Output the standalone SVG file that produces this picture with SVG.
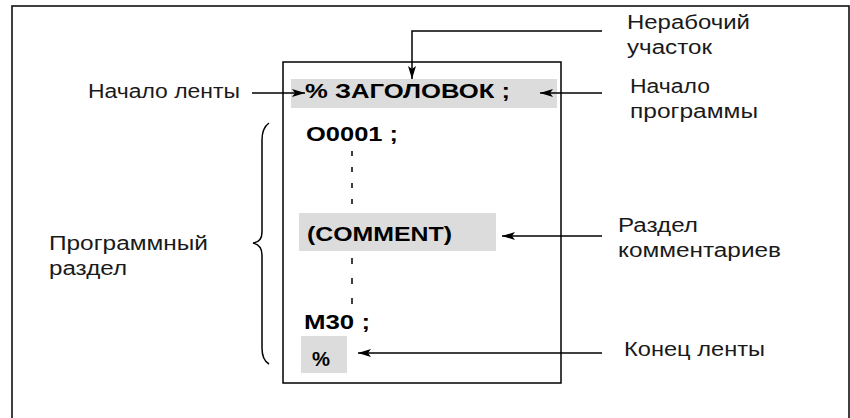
<svg xmlns="http://www.w3.org/2000/svg" width="850" height="418" viewBox="0 0 850 418">
<defs>
<style>
.lbl{font-family:"Liberation Sans",Arial,sans-serif;font-size:20px;fill:#1a1a1a}
.code{font-family:"Liberation Sans",Arial,sans-serif;font-size:20px;font-weight:bold;fill:#000}
.ln{stroke:#000;stroke-width:1.5;fill:none}
.hl{fill:#dcdcdc}
</style>
<marker id="ah" markerWidth="14" markerHeight="8" refX="13" refY="4" orient="auto" markerUnits="userSpaceOnUse">
<path d="M0,0 L13,4 L0,8 L3,4 Z" fill="#000"/>
</marker>
</defs>
<rect x="0" y="0" width="850" height="418" fill="#fff"/>
<rect x="12" y="6" width="837" height="430" fill="none" stroke="#111" stroke-width="1.6"/>
<g id="program-box">
<rect x="283" y="62" width="278" height="321" class="ln"/>
</g>
<g id="header">
<rect x="291" y="79" width="266" height="29" class="hl"/>
<text x="305" y="98" class="code" textLength="205" lengthAdjust="spacingAndGlyphs">% ЗАГОЛОВОК ;</text>
</g>
<g id="o0001">
<text x="306" y="141" class="code" textLength="92" lengthAdjust="spacingAndGlyphs">O0001 ;</text>
</g>
<g id="comment">
<rect x="299" y="213" width="197" height="38" class="hl"/>
<text x="307" y="241" class="code" textLength="145" lengthAdjust="spacingAndGlyphs">(COMMENT)</text>
</g>
<g id="m30">
<text x="304" y="329" class="code" textLength="66" lengthAdjust="spacingAndGlyphs">M30 ;</text>
</g>
<g id="tape-end">
<rect x="301" y="336" width="46" height="37" class="hl"/>
<text x="312" y="366" class="code" textLength="18" lengthAdjust="spacingAndGlyphs">%</text>
</g>
<g id="label-tape-start"><text x="88" y="98" class="lbl" textLength="152" lengthAdjust="spacingAndGlyphs">Начало ленты</text></g>
<g id="label-nonworking"><text x="627" y="29" class="lbl" textLength="123" lengthAdjust="spacingAndGlyphs">Нерабочий</text><text x="627" y="54" class="lbl" textLength="85" lengthAdjust="spacingAndGlyphs">участок</text></g>
<g id="label-prog-start"><text x="630" y="93" class="lbl" textLength="80" lengthAdjust="spacingAndGlyphs">Начало</text><text x="630" y="118" class="lbl" textLength="128" lengthAdjust="spacingAndGlyphs">программы</text></g>
<g id="label-comment"><text x="618" y="232" class="lbl" textLength="80" lengthAdjust="spacingAndGlyphs">Раздел</text><text x="618" y="257" class="lbl" textLength="163" lengthAdjust="spacingAndGlyphs">комментариев</text></g>
<g id="label-prog-section"><text x="49" y="250" class="lbl" textLength="159" lengthAdjust="spacingAndGlyphs">Программный</text><text x="49" y="275" class="lbl" textLength="78" lengthAdjust="spacingAndGlyphs">раздел</text></g>
<g id="label-tape-end"><text x="624" y="356" class="lbl" textLength="141" lengthAdjust="spacingAndGlyphs">Конец ленты</text></g>
<g id="connectors">
<path class="ln" d="M252,93 H305" marker-end="url(#ah)"/>
<path class="ln" d="M602,31 H412 V79" marker-end="url(#ah)"/>
<path class="ln" d="M602,93 H540" marker-end="url(#ah)"/>
<path class="ln" d="M602,236 H502" marker-end="url(#ah)"/>
<path class="ln" d="M602,353 H358" marker-end="url(#ah)"/>
<path class="ln" d="M352,151 V206" stroke-dasharray="5,11"/>
<path class="ln" d="M352,258 V305" stroke-dasharray="6,14"/>
<path class="ln" d="M269,123 Q262,128 262,140 V232 Q262,242 253,243 Q262,245 262,255 V348 Q262,360 269,364"/>
</g>
</svg>
